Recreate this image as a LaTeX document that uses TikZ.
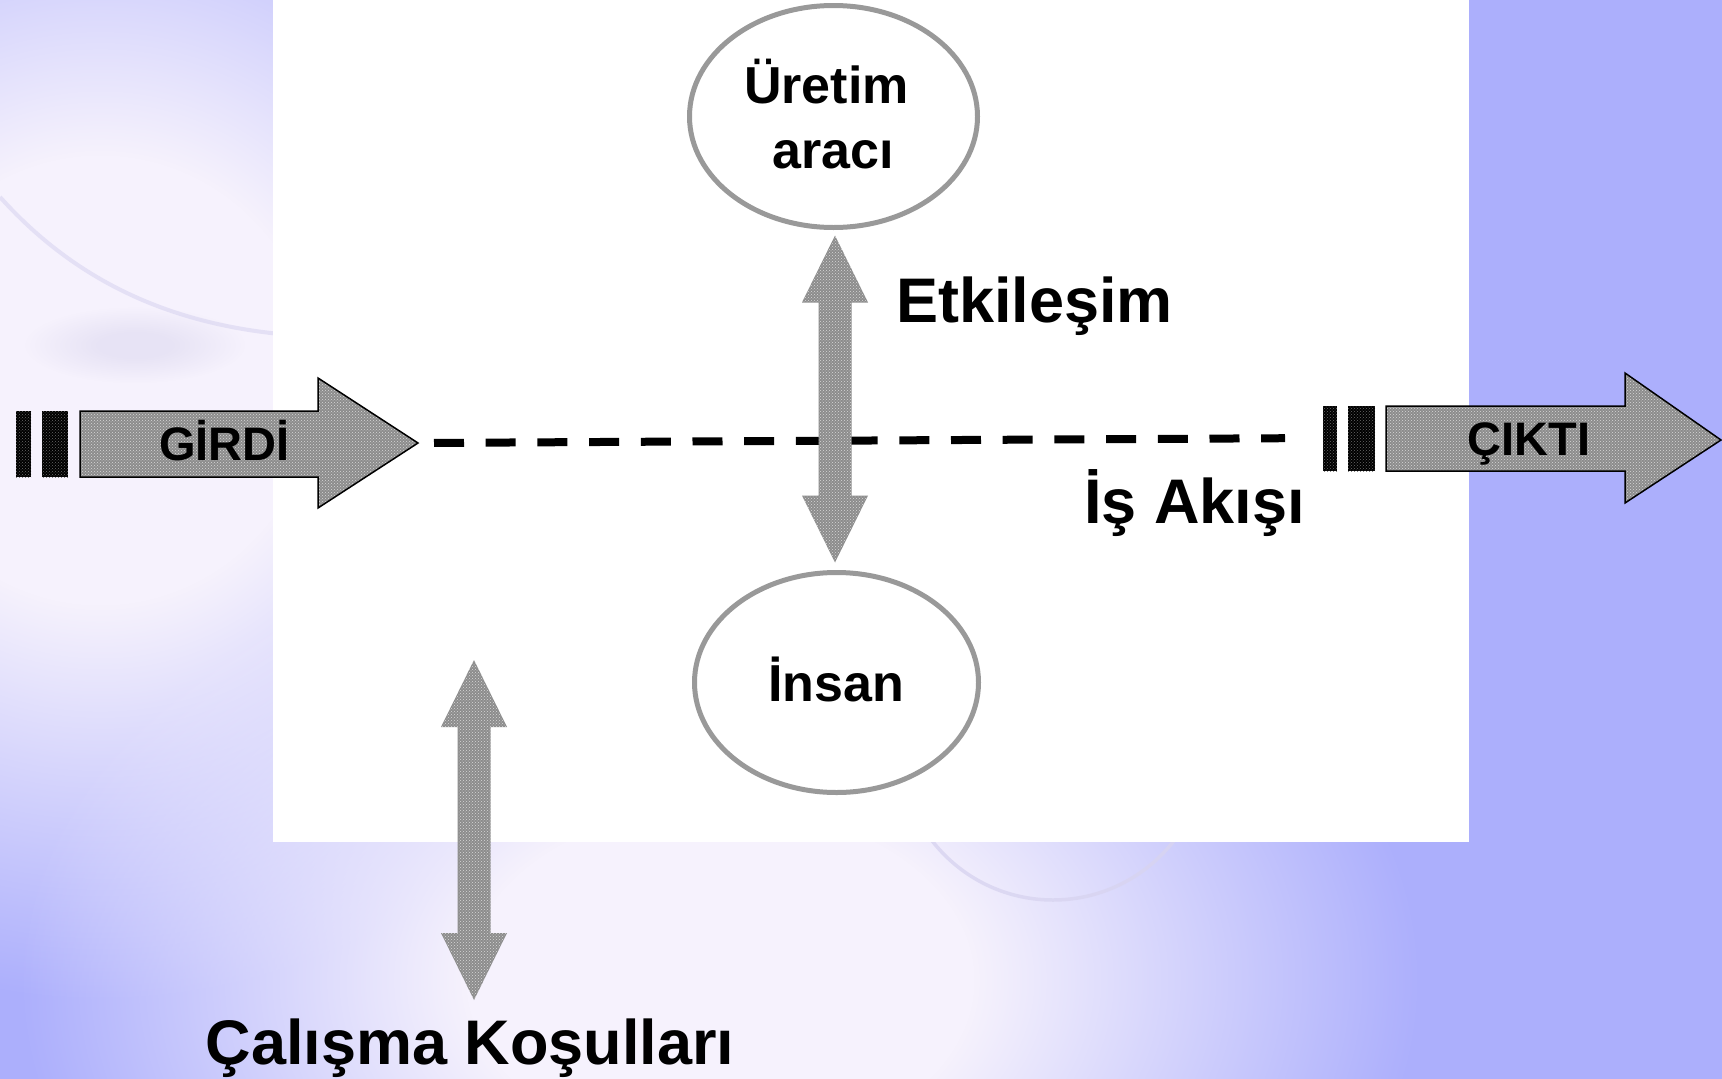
\documentclass[tikz,border=0pt]{standalone}
\usepackage{fontspec}
\setmainfont{Liberation Sans}
\usetikzlibrary{shapes.geometric,patterns,fadings,calc}

\definecolor{bgblue}{HTML}{ACAFFC}
\definecolor{glow}{HTML}{F6F2FD}
\definecolor{swirl}{HTML}{D8D4F0}
\definecolor{smudge}{HTML}{DAD6EE}
\definecolor{arrowgray}{HTML}{8C8C8C}
\definecolor{dotgray}{HTML}{D8D8D8}
\definecolor{ringgray}{HTML}{999999}
\definecolor{bardot}{HTML}{6A6A6A}

% soft radial glow: opaque core, linear fall-off to fully transparent
\pgfdeclareradialshading{glowshade}{\pgfpointorigin}{color(0bp)=(white); color(9bp)=(white); color(25bp)=(black); color(50bp)=(black)}
\pgfdeclarefading{glowfade}{\pgfuseshading{glowshade}}

\tikzset{
  big/.style={font=\bfseries\fontsize{63}{63}\selectfont, anchor=base, inner sep=0pt},
  mid/.style={font=\bfseries\fontsize{52}{52}\selectfont, anchor=base, inner sep=0pt},
  tag/.style={font=\bfseries\fontsize{47}{47}\selectfont, anchor=base, inner sep=0pt},
  ring/.style={ellipse, draw=ringgray, line width=5pt, fill=white, inner sep=0pt},
  stipple/.style={pattern=crosshatch dots, pattern color=dotgray},
  flowarrow/.style={fill=arrowgray, postaction={stipple}, postaction={draw=black, line width=1.5pt}},
  twowayfill/.style={fill=arrowgray, postaction={stipple}},
  barfill/.style={fill=black, postaction={pattern=crosshatch dots, pattern color=bardot}},
  flowline/.style={line width=8pt, dash pattern=on 30pt off 21.7pt}
}

% vertical double-headed block arrow between two tip coordinates
\newcommand\twoway[2]{%
  \path[twowayfill] (#1) -- ++(33,67) -- ++(-16.5,0) -- ($(#2)+(16.5,-67)$) -- ++(16.5,0)
    -- (#2) -- ++(-33,-67) -- ++(16.5,0) -- ($(#1)+(-16.5,67)$) -- ++(-16.5,0) -- cycle;}

\begin{document}
\begin{tikzpicture}[x=1pt, y=-1pt]
\useasboundingbox (0,0) rectangle (1722,1079);

% backdrop
\begin{scope}
  \clip (0,0) rectangle (1722,1079);
  \fill[bgblue] (0,0) rectangle (1722,1079);
  \fill[glow, path fading=glowfade] (100,380) ellipse [x radius=600, y radius=620];
  \fill[glow, path fading=glowfade] (720,980) ellipse [x radius=700, y radius=480];
  \fill[smudge, path fading=glowfade, opacity=0.5] (135,345) ellipse [x radius=110, y radius=38];
  \draw[swirl, line width=4pt, opacity=0.6] (0,197) .. controls (70,275) and (160,322) .. (280,334);
  \draw[swirl, line width=3.5pt, opacity=0.8] (1053,747) circle [radius=153];
\end{scope}

% central panel
\fill[white] (273,0) rectangle (1469,842);

% input block arrow
\path[barfill] (16,411) rectangle (31,477);
\path[barfill] (42,411) rectangle (68,477);
\path[flowarrow] (80,411) -- (318,411) -- (318,378) -- (418,443) -- (318,508) -- (318,477) -- (80,477) -- cycle;
\coordinate (gtip) at (418,443);
\node[tag] (girdi) at (224.5,460) {GİRDİ};

% output block arrow
\coordinate (ctail) at (1323,438);
\path[barfill] (1323,406) rectangle (1337,471);
\path[barfill] (1348,406) rectangle (1375,471);
\path[flowarrow] (1386,406) -- (1625,406) -- (1625,373) -- (1721,440) -- (1625,503) -- (1625,471) -- (1386,471) -- cycle;
\node[tag] (cikti) at (1529,455) {ÇIKTI};

% work flow line
\draw[flowline, shorten <=16pt, shorten >=38pt] (gtip) -- (ctail);

% tool and person
\node[ring, minimum width=288pt, minimum height=222pt] (uretim) at (833.5,116.5) {};
\node[ring, minimum width=284pt, minimum height=220pt] (insan) at (836.5,682.5) {};
\node[mid] (uretim1) at (826.5,103) {Üretim};
\node[mid] (uretim2) at (833.5,168) {aracı};
\node[mid] (insantxt) at (836,701) {İnsan};

% interaction arrow between tool and person
\coordinate (ua) at ($(uretim.south)+(1.5,5.5)$);
\coordinate (ia) at ($(insan.north)+(-1.5,-7.5)$);
\twoway{ua}{ia}

% working conditions arrow
\node[big] (calisma) at (470,1064) {Çalışma Koşulları};
\coordinate (ca) at (474,660);
\coordinate (cb) at (474,1000);
\twoway{ca}{cb}

\node[big] (etki) at (1034.5,322) {Etkileşim};
\node[big] (akis) at (1194.5,523) {İş Akışı};
\end{tikzpicture}
\end{document}
